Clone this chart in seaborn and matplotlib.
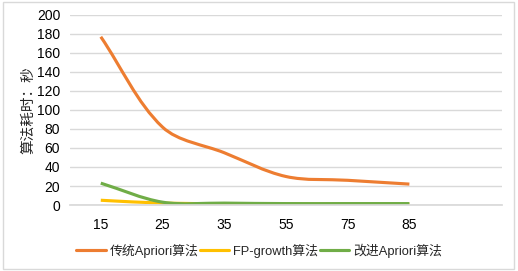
import numpy as np
import matplotlib.pyplot as plt
import seaborn as sns
from matplotlib.path import Path
from matplotlib.patches import PathPatch, Rectangle
from matplotlib.lines import Line2D

# data
categories = ["15", "25", "35", "55", "75", "85"]
apriori = [177, 82, 55, 30, 26, 22]
fp_growth = [5, 2, 1.5, 1, 1, 1]
improved = [23, 3, 2, 1.5, 1.5, 1.5]

series_names = ["传统Apriori算法", "FP-growth算法", "改进Apriori算法"]
colors = ["#ED7D31", "#FFC000", "#70AD47"]

sns.set_theme(style="white")
plt.rcParams['font.family'] = ['Liberation Sans', 'Noto Sans CJK SC']

fig = plt.figure(figsize=(5.18, 2.71), dpi=100)
ax = fig.add_axes([0.135, 0.2435, 0.834, 0.7015])
ax.set_xlim(-0.5, 6.5)
ax.set_ylim(0, 200)


def smooth_path(ax, xs, ys):
    # excel-like smoothing: tangents scaled by neighbouring segment lengths on screen
    pts = ax.transData.transform(np.column_stack([xs, ys]).astype(float))
    n = len(pts)
    verts = [pts[0]]
    codes = [Path.MOVETO]
    for i in range(n - 1):
        p0 = pts[max(i - 1, 0)]
        p1, p2 = pts[i], pts[i + 1]
        p3 = pts[min(i + 2, n - 1)]
        d01 = np.linalg.norm(p1 - p0)
        d12 = np.linalg.norm(p2 - p1)
        d23 = np.linalg.norm(p3 - p2)
        c1 = p1 + (p2 - p0) * d12 / (d01 + d12) / 3 if d01 > 0 else p1 + (p2 - p1) / 3
        c2 = p2 - (p3 - p1) * d12 / (d12 + d23) / 3 if d23 > 0 else p2 - (p2 - p1) / 3
        verts += [c1, c2, p2]
        codes += [Path.CURVE4] * 3
    verts = ax.transData.inverted().transform(np.array(verts))
    return Path(verts, codes)


x = np.arange(len(categories))
for vals, c in zip([apriori, fp_growth, improved], colors):
    ax.add_patch(PathPatch(smooth_path(ax, x, vals), facecolor="none",
                           edgecolor=c, linewidth=2.25, capstyle="butt"))

ax.set_yticks(range(0, 201, 20))
ax.set_xticks(x)
ax.set_xticklabels(categories)
ax.tick_params(axis="both", length=0, labelsize=10, colors="#000000")
ax.tick_params(axis="x", pad=9)
ax.tick_params(axis="y", pad=7)
ax.grid(axis="y", color="#d9d9d9", linewidth=1)
ax.set_axisbelow(True)
for s in ["top", "right", "left"]:
    ax.spines[s].set_visible(False)
ax.spines["bottom"].set_color("#d9d9d9")
ax.set_ylabel("算法耗时：秒", fontsize=10.5, labelpad=1)

handles = [Line2D([], [], color=c, linewidth=2.25) for c in colors]
fig.legend(handles, series_names, loc="center", bbox_to_anchor=(0.5, 0.075),
           ncol=3, frameon=False, fontsize=9.3, handlelength=2.3,
           handletextpad=0.3, columnspacing=0.1)

fig.patches.append(Rectangle((0.006, 0.007), 0.986, 0.985, transform=fig.transFigure,
                             fill=False, edgecolor="#d9d9d9", linewidth=1))

fig.savefig("out.png", dpi=100)
